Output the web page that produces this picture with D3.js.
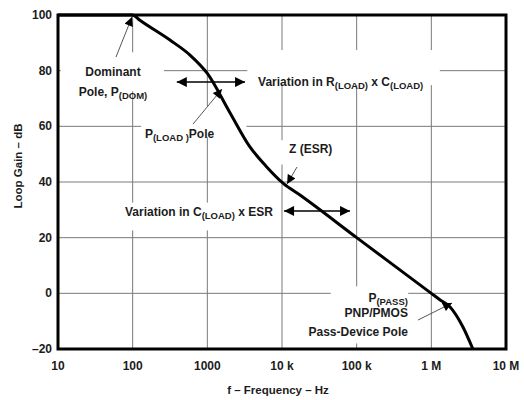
<!DOCTYPE html>
<html>
<head>
<meta charset="utf-8">
<script src="https://cdn.jsdelivr.net/npm/d3@7"></script>
<style>
  body { margin: 0; background: #fff; }
  svg text { font-family: "Liberation Sans", Arial, sans-serif; font-weight: bold; fill: #1c1c1c; }
</style>
</head>
<body>
<div id="chart"></div>
<script>
/**
 * Loop gain vs frequency (LDO compensation sketch)
 */
WIDTH = 524;
HEIGHT = 400;

// curve
const freq = [10, 100, 125, 316, 586, 1000, 2000, 3700, 6200, 10400, 17400, 100000, 1000000, 1300000, 1770000, 2640000, 3600000];
const gain = [100, 100, 98.1, 91, 85.6, 79, 65, 52.7, 45.5, 39.5, 35.3, 20, 0, -2.3, -4.8, -12, -20];

// ticks
const xTicks = [10, 100, 1000, 1e4, 1e5, 1e6, 1e7];
const xTickLabels = ["10", "100", "1000", "10 k", "100 k", "1 M", "10 M"];
const yTicks = [-20, 0, 20, 40, 60, 80, 100];
const yTickLabels = ["\u201320", "0", "20", "40", "60", "80", "100"];

// annotations, in (Hz, dB)
const labelBoxes = [
    { f0: 10.9, f1: 262, g0: 86.6, g1: 72.6 },         // dominant pole
    { f0: 3430, f1: 1.3e6, g0: 87.4, g1: 74.8 },       // R x C
    { f0: 130, f1: 3340, g0: 67.3, g1: 56.1 },         // P(LOAD) pole
    { f0: 8500, f1: 6.1e4, g0: 55.0, g1: 46.3 },       // Z(ESR)
    { f0: 70, f1: 9500, g0: 32.6, g1: 22.6 },          // C x ESR
    { f0: 4.5e4, f1: 4.9e5, g0: 2.5, g1: -18.0 }       // P(PASS)
];

const texts = [
    { f: 54.5, g: 78.1, anchor: "middle", parts: [["Dominant", 0]] },
    { f: 54.5, g: 70.9, anchor: "middle", parts: [["Pole, P", 0], ["(DOM)", 1]] },
    { f: 4780, g: 74.5, anchor: "start", parts: [["Variation in R", 0], ["(LOAD)", 1], [" x C", 0], ["(LOAD)", 1]] },
    { f: 146, g: 55.8, anchor: "start", parts: [["P", 0], ["(LOAD )", 1], ["Pole", 0]] },
    { f: 12400, g: 50.4, anchor: "start", parts: [["Z (ESR)", 0]] },
    { f: 78.9, g: 27.8, anchor: "start", parts: [["Variation in C", 0], ["(LOAD)", 1], [" x ESR", 0]] },
    { f: 4.86e5, g: -3.1, anchor: "end", parts: [["P", 0], ["(PASS)", 1]] },
    { f: 4.86e5, g: -8.5, anchor: "end", parts: [["PNP/PMOS", 0]] },
    { f: 4.86e5, g: -15.3, anchor: "end", parts: [["Pass-Device Pole", 0]] }
];

// pointers (thin line, one head) and double arrows
const pointers = [
    { f0: 59.8, g0: 84.9, f1: 98, g1: 99.3 },
    { f0: 643, g0: 60.8, f1: 1570, g1: 73.4 },
    { f0: 15900, g0: 45.4, f1: 11700, g1: 39.3 },
    { f0: 6.62e5, g0: -9.6, f1: 1.89e6, g1: -3.5 }
];
const spans = [
    { f0: 390, f1: 3200, g: 75.9 },
    { f0: 10650, f1: 81500, g: 29.6 }
];

const margin = { left: 58, right: 18, top: 15, bottom: 51 };

const svg = d3.select("#chart").append("svg")
    .attr("width", WIDTH)
    .attr("height", HEIGHT);

const x = d3.scaleLog().domain([10, 1e7]).range([margin.left, WIDTH - margin.right]);
const y = d3.scaleLinear().domain([-20, 100]).range([HEIGHT - margin.bottom, margin.top]);

const defs = svg.append("defs");
defs.append("marker")
    .attr("id", "head")
    .attr("viewBox", "0 0 10 10")
    .attr("refX", 10).attr("refY", 5)
    .attr("markerUnits", "userSpaceOnUse")
    .attr("markerWidth", 11).attr("markerHeight", 10)
    .attr("orient", "auto-start-reverse")
    .append("path").attr("d", "M0,0L10,5L0,10Z").attr("fill", "#000");
defs.append("marker")
    .attr("id", "headSmall")
    .attr("viewBox", "0 0 10 10")
    .attr("refX", 10).attr("refY", 5)
    .attr("markerUnits", "userSpaceOnUse")
    .attr("markerWidth", 10).attr("markerHeight", 9)
    .attr("orient", "auto")
    .append("path").attr("d", "M0,0L10,5L0,10Z").attr("fill", "#000");

// grid
const grid = svg.append("g").attr("stroke", "#7a7a7a").attr("stroke-width", 1);
grid.selectAll(".vx").data(xTicks.slice(1, -1)).join("line")
    .attr("x1", d => x(d)).attr("x2", d => x(d))
    .attr("y1", y(100)).attr("y2", y(-20));
grid.selectAll(".hy").data(yTicks.slice(1, -1)).join("line")
    .attr("x1", x(10)).attr("x2", x(1e7))
    .attr("y1", d => y(d)).attr("y2", d => y(d));

// white patches where the labels sit
svg.append("g").selectAll("rect").data(labelBoxes).join("rect")
    .attr("x", d => x(d.f0)).attr("y", d => y(d.g0))
    .attr("width", d => x(d.f1) - x(d.f0))
    .attr("height", d => y(d.g1) - y(d.g0))
    .attr("fill", "#fff");

// tick labels
svg.append("g").selectAll("text").data(xTicks).join("text")
    .attr("x", d => x(d))
    .attr("y", y(-20) + 21)
    .attr("text-anchor", "middle")
    .style("font-size", "12px")
    .text((d, i) => xTickLabels[i]);
svg.append("g").selectAll("text").data(yTicks).join("text")
    .attr("x", x(10) - 6)
    .attr("y", d => y(d) + 4)
    .attr("text-anchor", "end")
    .style("font-size", "12px")
    .text((d, i) => yTickLabels[i]);

// axis titles
svg.append("text")
    .attr("x", (x(10) + x(1e7)) / 2 - 4)
    .attr("y", 394)
    .attr("text-anchor", "middle")
    .style("font-size", "11.5px")
    .text("f \u2013 Frequency \u2013 Hz");
svg.append("text")
    .attr("transform", "translate(22," + 166 + ") rotate(-90)")
    .attr("text-anchor", "middle")
    .style("font-size", "11.5px")
    .text("Loop Gain \u2013 dB");

// annotation texts with subscripts
texts.forEach(function(t){
    let el = svg.append("text")
        .attr("x", x(t.f)).attr("y", y(t.g))
        .attr("text-anchor", t.anchor)
        .style("font-size", "12px");
    let shifted = 0;
    t.parts.forEach(function(p){
        let ts = el.append("tspan").text(p[0]);
        if (p[1] == 1) {
            ts.style("font-size", "9.5px").attr("dy", 3 - shifted);
            shifted = 3;
        } else if (shifted) {
            ts.attr("dy", -shifted);
            shifted = 0;
        }
    });
});

// pointers
svg.append("g").selectAll("line").data(pointers).join("line")
    .attr("x1", d => x(d.f0)).attr("y1", d => y(d.g0))
    .attr("x2", d => x(d.f1)).attr("y2", d => y(d.g1))
    .attr("stroke", "#555").attr("stroke-width", 1)
    .attr("marker-end", "url(#headSmall)");
svg.append("g").selectAll("line").data(spans).join("line")
    .attr("x1", d => x(d.f0)).attr("y1", d => y(d.g))
    .attr("x2", d => x(d.f1)).attr("y2", d => y(d.g))
    .attr("stroke", "#000").attr("stroke-width", 1.5)
    .attr("marker-start", "url(#head)")
    .attr("marker-end", "url(#head)");

// loop gain curve
const line = d3.line()
    .x((d, i) => x(freq[i]))
    .y(d => y(d))
    .curve(d3.curveMonotoneX);
svg.append("path")
    .datum(gain)
    .attr("d", line)
    .attr("fill", "none")
    .attr("stroke", "#000")
    .attr("stroke-width", 3)
    .attr("stroke-linejoin", "round");

// frame
svg.append("rect")
    .attr("x", x(10)).attr("y", y(100))
    .attr("width", x(1e7) - x(10))
    .attr("height", y(-20) - y(100))
    .attr("fill", "none")
    .attr("stroke", "#000")
    .attr("stroke-width", 3);
</script>
</body>
</html>
